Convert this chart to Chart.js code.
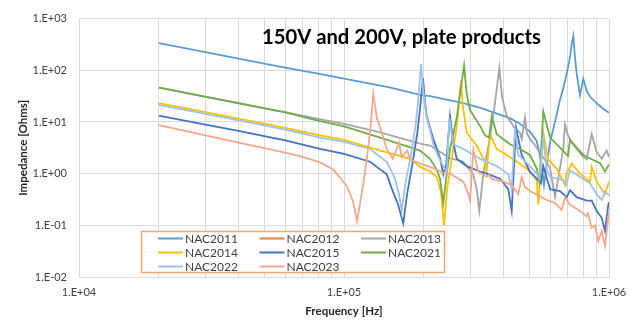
<!DOCTYPE html>
<html>
<head>
<meta charset="utf-8">
<script src="https://cdn.jsdelivr.net/npm/chart.js@4.4.1/dist/chart.umd.min.js"></script>
<style>
  body { margin: 0; background: #fff; }
</style>
</head>
<body>
<canvas id="myChart" width="640" height="334"></canvas>
<script>
var chartTitle = '150V and 200V, plate products';
var xTitle = 'Frequency [Hz]';
var yTitle = 'Impedance [Ohms]';
var xTickLabels = ['1.E+04', '1.E+05', '1.E+06'];
var yTickLabels = ['1.E-02', '1.E-01', '1.E+00', '1.E+01', '1.E+02', '1.E+03'];

var seriesNames = ['NAC2011', 'NAC2012', 'NAC2013', 'NAC2014', 'NAC2015', 'NAC2021', 'NAC2022', 'NAC2023'];
var seriesColors = ['#5B9BD5', '#ED7D31', '#A5A5A5', '#FFC000', '#4472C4', '#70AD47', '#9DC3E6', '#F5A78A'];

// frequency [Hz] / impedance [Ohms]
var nac2011Freq = [20000, 30000, 40000, 50000, 60000, 80000, 100000, 150000, 193600, 211100, 282100, 330000, 377000, 420000, 455000, 503300, 533500, 553900, 568500, 582000, 599000, 614800, 634800, 653300, 672200, 692400, 712500, 723100, 733300, 744000, 755200, 777300, 799800, 823700, 847800, 898600, 950000, 1000000];
var nac2011Z = [335, 225, 168, 135, 113, 86, 69, 46, 33.3, 31.5, 23.2, 18.5, 14.5, 12, 9.7, 6.5, 4.3, 1.8, 0.6, 1.5, 4, 7, 14, 27, 45, 86, 180, 320, 461, 180, 86, 33, 69, 40, 31, 23, 18, 15];

var nac2012Freq = [];
var nac2012Z = [];

var nac2013Freq = [20000, 30000, 40000, 50000, 60000, 80000, 100000, 137000, 193600, 211100, 251200, 282100, 307600, 316800, 324000, 335500, 355600, 372000, 385500, 395000, 411200, 441900, 461500, 468400, 481900, 490000, 503300, 533500, 553900, 599000, 625500, 640000, 672200, 682300, 700300, 723100, 755200, 799800, 823700, 860400, 898600, 938600, 980100, 1000000];
var nac2013Z = [46.5, 31, 23.3, 18.6, 15.5, 11.5, 9.2, 6.3, 3.8, 3.5, 2.0, 1.7, 0.95, 0.5, 0.19, 1.0, 5, 25, 112, 30, 13, 7.5, 6.2, 4.7, 12, 6, 4.7, 3.2, 2.4, 1.3, 0.35, 0.7, 3, 9.0, 5.5, 4.0, 3.0, 2.1, 1.9, 5.8, 2.6, 1.94, 2.8, 2.1];

var nac2014Freq = [20000, 30000, 40000, 50000, 60000, 81200, 100000, 125350, 177500, 193600, 211100, 223800, 232000, 238500, 245000, 255000, 266300, 272000, 276500, 281000, 290400, 316800, 340500, 345500, 355600, 377000, 423100, 473700, 503300, 533500, 541000, 565100, 588600, 634800, 682300, 690000, 723100, 777300, 847800, 860400, 898600, 965800, 1000000];
var nac2014Z = [23.2, 15.5, 11.6, 9.3, 7.7, 5.5, 4.5, 3.2, 1.94, 1.35, 1.1, 0.87, 0.45, 0.1, 0.5, 2, 8, 25, 64, 20, 6.2, 3.5, 1.7, 1.1, 5.8, 3.0, 2.1, 1.4, 1.1, 0.75, 0.25, 6.2, 1.9, 1.25, 0.6, 1.0, 1.56, 1.0, 0.7, 1.35, 0.7, 0.4, 0.7];

var nac2015Freq = [20000, 30000, 40000, 50000, 60000, 81200, 100000, 125350, 144900, 153000, 160000, 167400, 173000, 181000, 189000, 194000, 198700, 202000, 205100, 217300, 230300, 237000, 243000, 251200, 258600, 266300, 290400, 326000, 345500, 388000, 416900, 429400, 445800, 468400, 503300, 533500, 553900, 565100, 599000, 653300, 692400, 712500, 755200, 823700, 860400, 898600, 938600, 965800, 994000, 1000000];
var nac2015Z = [13.3, 8.9, 6.7, 5.3, 4.4, 3.0, 2.4, 1.7, 0.97, 0.45, 0.25, 0.11, 0.4, 1.5, 6, 20, 70, 25, 13, 4.7, 2.0, 0.97, 1.5, 13, 4.0, 1.94, 1.4, 1.1, 1.0, 0.8, 0.5, 0.19, 7.8, 2.3, 1.08, 0.8, 0.65, 1.4, 0.5, 0.46, 0.35, 0.48, 0.35, 0.3, 0.3, 0.19, 0.14, 0.078, 0.25, 0.28];

var nac2021Freq = [20000, 30000, 40000, 50000, 60000, 81200, 100000, 137000, 193600, 211100, 223800, 230300, 237000, 244100, 251200, 266300, 274100, 283800, 290400, 298900, 326000, 340500, 352600, 361000, 377000, 423100, 461500, 503300, 533500, 545800, 565100, 599000, 653300, 700300, 712500, 755200, 799800, 860400, 924700, 965800, 1000000];
var nac2021Z = [46, 30.7, 23, 18.4, 15.3, 10.4, 8.2, 5.0, 2.8, 1.94, 1.2, 0.8, 0.27, 1.0, 3, 12, 35, 124, 35, 17, 8.4, 5.5, 5.0, 13, 5.8, 3.7, 3.0, 2.3, 1.25, 0.7, 16, 5.0, 3.2, 2.2, 4.5, 3.2, 2.3, 1.9, 1.6, 1.1, 1.5];

var nac2022Freq = [20000, 30000, 40000, 50000, 60000, 81200, 100000, 125350, 144900, 155800, 161300, 165100, 170000, 178000, 186000, 191000, 195300, 199000, 205100, 211100, 217300, 230300, 244100, 249700, 258600, 282100, 326000, 377000, 416900, 429400, 441900, 454700, 503300, 533500, 545800, 565100, 582000, 599000, 672200, 690000, 712500, 777300, 847800, 898600, 938600, 965800, 1000000];
var nac2022Z = [21.5, 14.3, 10.7, 8.6, 7.1, 5.0, 4.1, 3.0, 1.7, 0.8, 0.4, 0.19, 0.6, 2, 8, 30, 133, 40, 12, 7.2, 3.7, 1.8, 1.08, 12, 3.7, 3.0, 1.94, 1.4, 0.97, 0.5, 7.8, 2.3, 1.4, 1.0, 0.8, 5.0, 1.2, 0.87, 0.75, 0.6, 1.17, 0.87, 0.65, 0.4, 0.31, 0.45, 0.38];

var nac2023Freq = [20000, 30000, 40000, 50000, 60000, 70000, 81200, 91000, 102000, 108000, 112000, 118000, 122000, 126000, 129000, 133000, 138800, 144900, 153000, 161300, 165100, 173400, 177500, 193600, 211100, 237000, 251200, 282100, 295000, 299000, 307600, 321200, 345500, 352600, 360000, 399200, 429400, 454700, 468400, 481900, 503300, 533500, 582000, 625500, 663000, 682300, 712500, 777300, 823700, 833300, 860400, 885500, 911200, 938600, 965800, 1000000];
var nac2023Z = [8.7, 5.5, 4.0, 3.1, 2.55, 2.1, 1.65, 1.2, 0.6, 0.3, 0.12, 0.6, 2.0, 8, 35, 12, 6.2, 3.0, 1.94, 4.0, 2.1, 2.8, 1.9, 1.56, 1.35, 1.05, 1.0, 0.7, 0.4, 0.3, 2.9, 1.08, 0.87, 0.95, 0.8, 0.7, 0.6, 0.4, 0.85, 0.55, 0.46, 0.39, 0.31, 0.27, 0.2, 0.35, 0.25, 0.19, 0.15, 0.17, 0.09, 0.1, 0.05, 0.077, 0.04, 0.19];

var seriesFreq = [nac2011Freq, nac2012Freq, nac2013Freq, nac2014Freq, nac2015Freq, nac2021Freq, nac2022Freq, nac2023Freq];
var seriesZ = [nac2011Z, nac2012Z, nac2013Z, nac2014Z, nac2015Z, nac2021Z, nac2022Z, nac2023Z];

Chart.defaults.font.family = 'Lato';
Chart.defaults.color = '#404040';

var datasets = seriesNames.map(function (name, i) {
  return {
    label: name,
    data: seriesFreq[i].map(function (f, j) { return {x: f, y: seriesZ[i][j]}; }),
    borderColor: seriesColors[i],
    backgroundColor: seriesColors[i],
    borderWidth: 1.8,
    pointRadius: 0,
    tension: 0,
    order: seriesNames.length - i   // later series on top, like Excel
  };
});

function decadeIndex(v) {
  var e = Math.round(Math.log10(v));
  if (Math.abs(v / Math.pow(10, e) - 1) > 1e-6) return null;
  return e;
}

//title and boxed legend inside the plot
var plotText = {
  id: 'plotText',
  afterDraw: function (chart) {
    var c = chart.ctx;
    c.save();
    c.fillStyle = '#000';
    c.textBaseline = 'alphabetic';
    c.font = 'bold 20px Lato';
    var w = c.measureText(chartTitle).width;
    c.font = 'bold ' + (20 * 279 / w).toFixed(2) + 'px Lato';
    c.fillText(chartTitle, 262, 44);

    c.fillStyle = '#fff';
    c.fillRect(141, 231, 304, 42);
    c.strokeStyle = '#F4A46C';
    c.lineWidth = 1.5;
    c.strokeRect(141.5, 231.5, 303, 41);
    c.font = '12px Lato';
    c.textBaseline = 'middle';
    chart.data.datasets.forEach(function (ds, i) {
      var x = 158 + (i % 3) * 101.5;
      var y = 238.5 + Math.floor(i / 3) * 14;
      c.strokeStyle = ds.borderColor;
      c.lineWidth = 2;
      c.beginPath();
      c.moveTo(x, y);
      c.lineTo(x + 25, y);
      c.stroke();
      c.fillStyle = '#404040';
      c.fillText(ds.label, x + 27, y + 0.5);
    });
    c.restore();
  }
};

var ctx = document.getElementById('myChart');
var myChart = new Chart(ctx, {
  type: 'line',
  data: {datasets: datasets},
  plugins: [plotText],
  options: {
    responsive: false,
    animation: false,
    layout: {padding: {left: 0, right: 31, top: 14, bottom: 0}},
    plugins: {
      legend: {display: false},
      tooltip: {enabled: false}
    },
    scales: {
      x: {
        type: 'logarithmic',
        min: 10000,
        max: 1000000,
        afterFit: function (scale) { scale.height = 57; },
        afterBuildTicks: function (scale) {
          var t = [];
          for (var d = 10000; d < 1000000; d *= 10) {
            for (var m = 1; m < 10; m++) t.push({value: m * d});
          }
          t.push({value: 1000000});
          scale.ticks = t;
        },
        ticks: {
          autoSkip: false,
          maxRotation: 0,
          padding: 9,
          font: {size: 11},
          callback: function (v) {
            var e = decadeIndex(v);
            return e === null ? '' : xTickLabels[e - 4];
          }
        },
        grid: {color: '#D9D9D9', drawTicks: false},
        border: {color: '#D9D9D9'},
        title: {display: true, text: xTitle, color: '#262626', font: {size: 11.5, weight: 'bold'}, padding: {top: 0, bottom: 16}}
      },
      y: {
        type: 'logarithmic',
        min: 0.01,
        max: 1000,
        afterFit: function (scale) { scale.width = 79; },
        afterBuildTicks: function (scale) {
          scale.ticks = yTickLabels.map(function (lbl, i) { return {value: Math.pow(10, i - 2)}; });
        },
        ticks: {
          padding: 12,
          font: {size: 11},
          callback: function (v) {
            var e = decadeIndex(v);
            return e === null ? '' : yTickLabels[e + 2];
          }
        },
        grid: {color: '#D9D9D9', drawTicks: false},
        border: {color: '#D9D9D9'},
        title: {display: true, text: yTitle, color: '#262626', font: {size: 11.5, weight: 'bold'}, padding: {top: 16, bottom: 0}}
      }
    }
  }
});
</script>
</body>
</html>
